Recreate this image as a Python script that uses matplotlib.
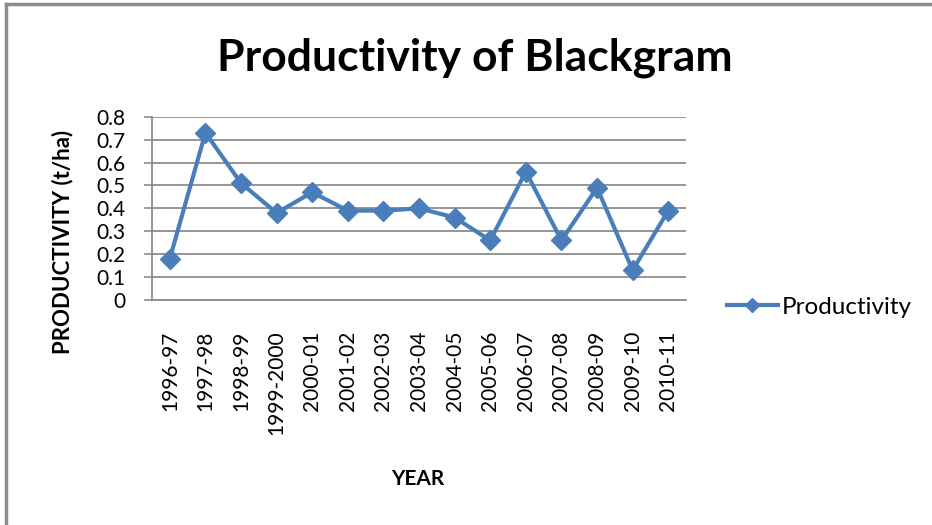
import numpy as np
import matplotlib.pyplot as plt
from matplotlib.lines import Line2D

years = ['1996-97', '1997-98', '1998-99', '1999-2000', '2000-01', '2001-02',
         '2002-03', '2003-04', '2004-05', '2005-06', '2006-07', '2007-08',
         '2008-09', '2009-10', '2010-11']
productivity = [0.18, 0.73, 0.51, 0.38, 0.47, 0.39, 0.39, 0.40, 0.36,
                0.26, 0.56, 0.26, 0.49, 0.13, 0.39]
yticks = [0, 0.1, 0.2, 0.3, 0.4, 0.5, 0.6, 0.7, 0.8]

blue = '#4a7ebb'
grid_col = '#8c8c8c'
font = ['Lato', 'DejaVu Sans']


def main():
    plt.rcParams['font.family'] = font
    fig = plt.figure(figsize=(9.32, 5.25), dpi=100)

    # chart frame (top and left edges only)
    fig.add_artist(Line2D([0.0065, 0.0065], [0, 0.992], transform=fig.transFigure,
                          color=grid_col, lw=2.5))
    fig.add_artist(Line2D([0.0065, 1.0], [0.992, 0.992], transform=fig.transFigure,
                          color=grid_col, lw=2.5))

    ax = fig.add_axes([0.1631, 0.4286, 0.5730, 0.3491])
    x = np.arange(len(years))
    ax.plot(x, productivity, color=blue, lw=3, marker='D', markersize=10,
            markeredgecolor=blue, label='Productivity', zorder=3)

    ax.set_xlim(-0.5, len(years) - 0.5)
    ax.set_ylim(0, 0.8)
    ax.set_yticks(yticks)
    ax.set_yticklabels(['0' if v == 0 else '%.1f' % v for v in yticks], fontsize=15)
    ax.set_xticks(x)
    ax.set_xticklabels(years, rotation=90, fontsize=15)
    ax.tick_params(axis='x', length=0, pad=22)
    ax.tick_params(axis='y', length=6, width=1.2, color=grid_col, pad=13)

    ax.grid(axis='y', color=grid_col, lw=1.3)
    ax.set_axisbelow(True)
    for s in ['top', 'right']:
        ax.spines[s].set_visible(False)
    for s in ['left', 'bottom']:
        ax.spines[s].set_color(grid_col)
        ax.spines[s].set_linewidth(1.3)

    ax.set_ylabel('PRODUCTIVITY (t/ha)', fontsize=16, fontweight='bold')
    ax.yaxis.set_label_coords(-0.147, 0.318)
    ax.set_xlabel('YEAR', fontsize=15, fontweight='bold')
    ax.xaxis.set_label_coords(0.498, -0.92)
    fig.text(0.509, 0.89, 'Productivity of Blackgram', ha='center', va='center',
             fontsize=32, fontweight='bold')

    ax.legend(loc='center left', bbox_to_anchor=(1.035, -0.04), frameon=False,
              fontsize=17.5, handlelength=2.1, handletextpad=0.15, markerscale=0.75)

    fig.savefig('out.png', dpi=100)


if __name__ == "__main__":
    main()
